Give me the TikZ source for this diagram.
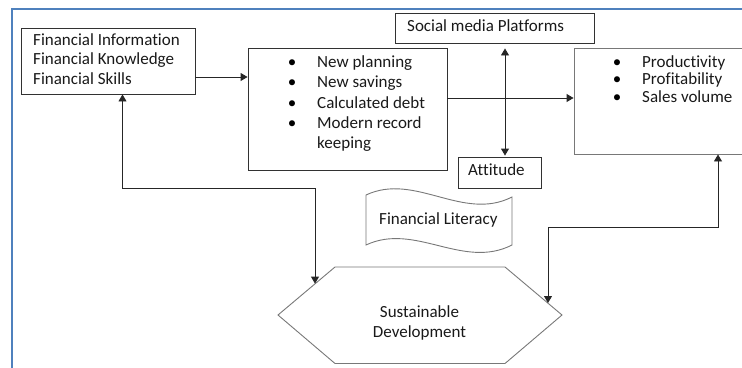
\documentclass[tikz,border=0pt]{standalone}
\usepackage{fontspec}
\setmainfont[Ligatures=NoCommon]{Carlito}
\usetikzlibrary{arrows.meta}
\definecolor{frameblue}{RGB}{79,129,189}
\definecolor{edgegray}{RGB}{120,120,120}
\definecolor{boxedge}{RGB}{50,50,50}
\begin{document}
\begin{tikzpicture}[x=1pt,y=-1pt,
  box/.style={draw=boxedge, line width=0.9pt, inner sep=0pt},
  txt/.style={font=\fontsize{17}{20}\selectfont, inner sep=0pt, text=black!90},
  bul/.style={font=\fontsize{17}{20}\selectfont, inner sep=0pt, anchor=base, text=black},
  tip/.tip={Triangle[length=7pt,width=8pt]},
  arr/.style={-tip, line width=0.9pt, draw=black!85},
  darr/.style={tip-tip, line width=0.9pt, draw=black!85}]
\useasboundingbox (0,0) rectangle (742,367);
% outer frame
\draw[frameblue, line width=1.6pt] (12,370) -- (12,9) -- (746,9);

% boxes
\node[box, minimum width=174pt, minimum height=66pt] (fin) at (108,61) {};
\node[box, minimum width=199pt, minimum height=122pt] (plan) at (347.5,109) {};
\node[box, minimum width=199pt, minimum height=30pt] (soc) at (494.5,28) {};
\node[box, minimum width=83pt, minimum height=31pt] (att) at (499.5,172.5) {};
\node[box, draw=edgegray, minimum width=188pt, minimum height=106pt] (perf) at (668,101) {};

% texts box 1
\node[txt, anchor=base west] (t1a) at (33,45) {Financial Information};
\node[txt, anchor=base west] (t1b) at (33,64.5) {Financial Knowledge};
\node[txt, anchor=base west] (t1c) at (33,84) {Financial Skills};

% texts box 2
\node[bul] (b2a) at (292,67) {\textbullet};
\node[bul] (b2b) at (292,87.5) {\textbullet};
\node[bul] (b2c) at (292,108) {\textbullet};
\node[bul] (b2d) at (292,128.5) {\textbullet};
\node[txt, anchor=base west] (t2a) at (317,67) {New planning};
\node[txt, anchor=base west] (t2b) at (317,87.5) {New savings};
\node[txt, anchor=base west] (t2c) at (317,108) {Calculated debt};
\node[txt, anchor=base west] (t2d) at (317,128.5) {Modern record};
\node[txt, anchor=base west] (t2e) at (317,148.5) {keeping};

% texts box 3
\node[bul] (b3a) at (617,67) {\textbullet};
\node[bul] (b3b) at (617,84.5) {\textbullet};
\node[bul] (b3c) at (617,102) {\textbullet};
\node[txt, anchor=base west] (t3a) at (642,67) {Productivity};
\node[txt, anchor=base west] (t3b) at (642,84.5) {Profitability};
\node[txt, anchor=base west] (t3c) at (642,102) {Sales volume};

% social, attitude
\node[txt, anchor=base west] (tsoc) at (407,31.5) {Social media Platforms};
\node[txt, anchor=base west] (tatt) at (468,175.5) {Attitude};

% Financial Literacy wave
\draw[edgegray, line width=0.9pt, fill=white]
  (366,195) .. controls (415,172) and (463,222) .. (512,197)
  -- (512,245) .. controls (463,270) and (415,222) .. (366,245) -- cycle;
\node[txt, anchor=base west] (tlit) at (379,224) {Financial Literacy};

% Sustainable Development hexagon
\coordinate (h1) at (278,315);
\coordinate (h2) at (335,267);
\coordinate (h3) at (505,267);
\coordinate (h4) at (562,315);
\coordinate (h5) at (505,363.5);
\coordinate (h6) at (335,363.5);
\draw[edgegray, line width=0.9pt] (h1) -- (h2) -- (h3) -- (h4) -- (h5) -- (h6) -- cycle;
\node[txt, anchor=base] (tsus) at (419.5,317.5) {Sustainable};
\node[txt, anchor=base] (tdev) at (419.5,337.5) {Development};
\coordinate (sdL) at (315,283.6);
\coordinate (sdR) at (548,303);

% connectors
\draw[arr] ([yshift=-16pt]fin.east) -- ([yshift=-16pt]fin.east -| plan.west);
\draw[arr] ([yshift=11pt]plan.east) -- ([yshift=11pt]plan.east -| perf.west);
\draw[darr] ([xshift=10.5pt,yshift=-5pt]soc.south) -- ([xshift=10.5pt,yshift=1pt]soc.south |- att.north);
\coordinate (lk) at (0,188);
\draw[darr] ([xshift=14.5pt]fin.south) -- ([xshift=14.5pt]fin.south |- lk) -| (sdL);
\coordinate (rk) at (0,227);
\draw[darr] ([xshift=50pt]perf.south) -- ([xshift=50pt]perf.south |- rk) -| (sdR);
\end{tikzpicture}
\end{document}
